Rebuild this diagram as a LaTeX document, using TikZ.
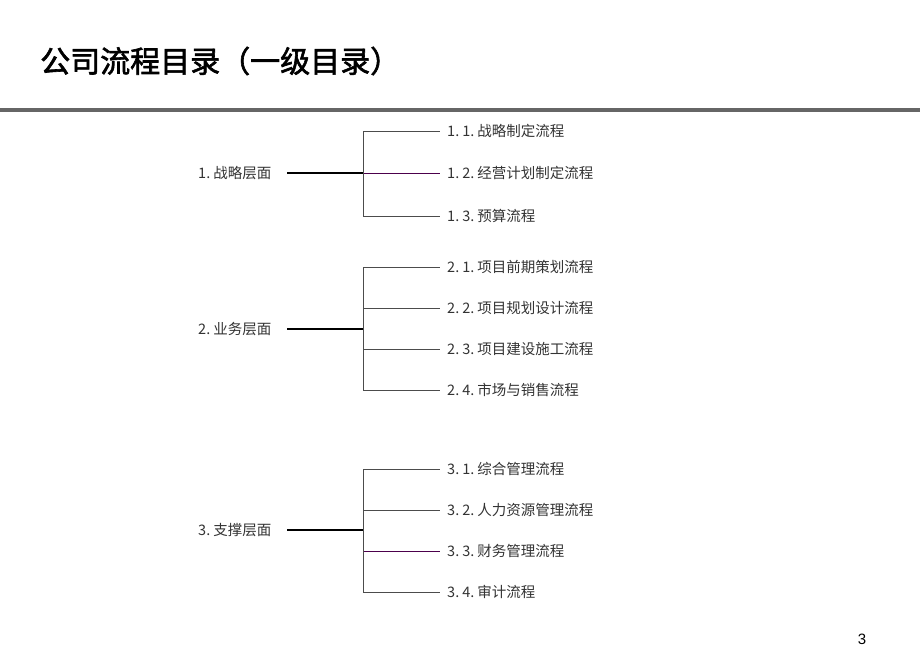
\documentclass[tikz,border=0pt]{standalone}
\usepackage{fontspec}
\newfontfamily\cjk{Noto Sans CJK SC}
\newfontfamily\cjkb{Noto Sans CJK SC}[FakeBold=2]
\setmainfont{Liberation Sans}
\newcommand{\dt}{.\hspace{3pt}}
\begin{document}
\begin{tikzpicture}[x=1pt,y=-1pt,
  lvl/.style={anchor=west,inner sep=0pt,font=\cjk\fontsize{14.5}{16}\selectfont,text=black!80},
  leaf/.style={anchor=west,inner xsep=7pt,inner ysep=0pt,font=\cjk\fontsize{14.5}{16}\selectfont,text=black!80},
  trunk/.style={line width=1.6pt,black},
  branch/.style={line width=0.9pt,black!70},
  pbranch/.style={line width=0.9pt,violet!60!black}]
\useasboundingbox (0,0) rectangle (920,663);
% title
\node[anchor=west,inner sep=0pt,font=\cjkb\fontsize{30}{34}\selectfont] (title) at (40,61) {公司流程目录（一级目录）};
\draw[line width=3.5pt,black!60] (0,110) -- (920,110);
\node[font=\fontsize{15}{17}\selectfont,inner sep=0pt] (pn) at (862,639) {3};

% group 1
\node[lvl] (g1) at (198,173) {1\dt 战略层面};
\coordinate (s1) at (287,173);
\coordinate (h1) at (363,173);
\node[leaf] (b11) at (440,131) {1\dt 1\dt 战略制定流程};
\node[leaf] (b12) at (440,173) {1\dt 2\dt 经营计划制定流程};
\node[leaf] (b13) at (440,216) {1\dt 3\dt 预算流程};
\draw[trunk] (s1) -- (h1);
\draw[branch] (h1) |- (b11.west);
\draw[pbranch] (h1) -- (b12.west);
\draw[branch] (h1) |- (b13.west);

% group 2
\node[lvl] (g2) at (198,329) {2\dt 业务层面};
\coordinate (s2) at (287,329);
\coordinate (h2) at (363,329);
\node[leaf] (b21) at (440,267) {2\dt 1\dt 项目前期策划流程};
\node[leaf] (b22) at (440,308) {2\dt 2\dt 项目规划设计流程};
\node[leaf] (b23) at (440,349) {2\dt 3\dt 项目建设施工流程};
\node[leaf] (b24) at (440,390) {2\dt 4\dt 市场与销售流程};
\draw[trunk] (s2) -- (h2);
\draw[branch] (h2) |- (b21.west);
\draw[branch] (h2) |- (b22.west);
\draw[branch] (h2) |- (b23.west);
\draw[branch] (h2) |- (b24.west);

% group 3
\node[lvl] (g3) at (198,530) {3\dt 支撑层面};
\coordinate (s3) at (287,530);
\coordinate (h3) at (363,530);
\node[leaf] (b31) at (440,469) {3\dt 1\dt 综合管理流程};
\node[leaf] (b32) at (440,510) {3\dt 2\dt 人力资源管理流程};
\node[leaf] (b33) at (440,551) {3\dt 3\dt 财务管理流程};
\node[leaf] (b34) at (440,592) {3\dt 4\dt 审计流程};
\draw[trunk] (s3) -- (h3);
\draw[branch] (h3) |- (b31.west);
\draw[branch] (h3) |- (b32.west);
\draw[pbranch] (h3) |- (b33.west);
\draw[branch] (h3) |- (b34.west);
\end{tikzpicture}
\end{document}
